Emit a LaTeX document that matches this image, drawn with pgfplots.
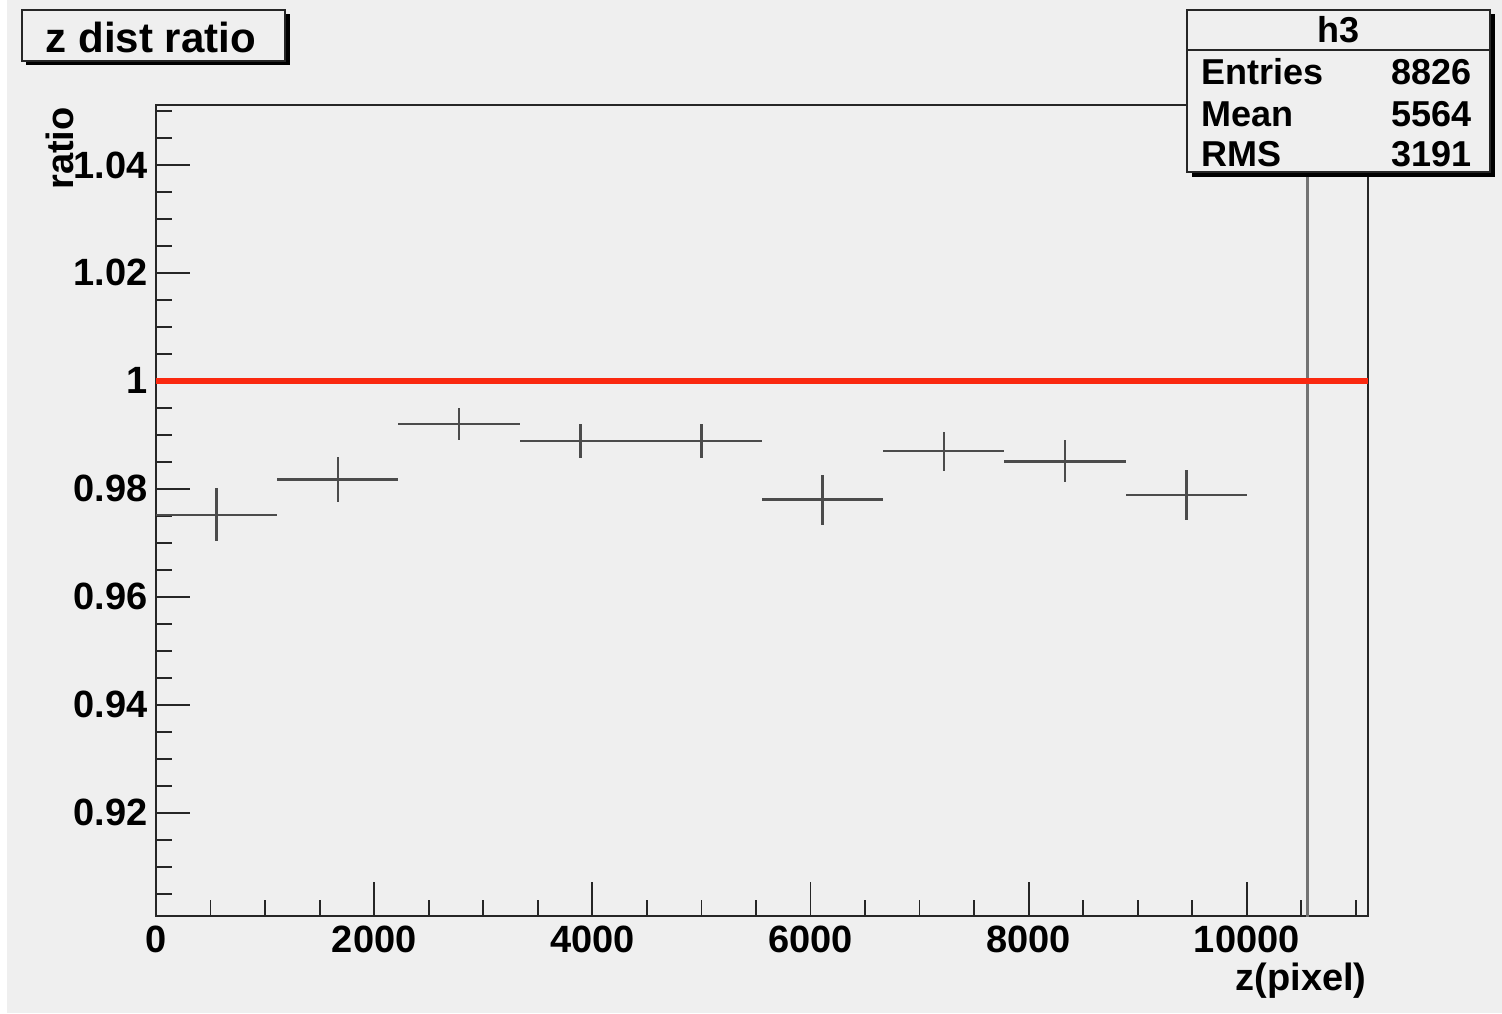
\documentclass[border=0pt]{standalone}
\usepackage{pgfplots}
\pgfplotsset{compat=1.18}
\usepackage{pgfplotstable}
\usepackage{fontspec}
\setmainfont{Liberation Sans}
\definecolor{bg}{RGB}{239,239,239}
\definecolor{rootred}{RGB}{250,40,15}
\definecolor{barcol}{RGB}{75,75,75}
\pgfplotstableread{
x ex y ey
555.6 555.6 0.9752 0.0049
1666.7 555.6 0.9817 0.0042
2777.8 555.6 0.9920 0.0029
3888.9 555.6 0.9889 0.0032
5000.0 555.6 0.9889 0.0032
6111.1 555.6 0.9780 0.0046
7222.2 555.6 0.9870 0.0036
8333.3 555.6 0.9851 0.0039
9444.4 555.6 0.9789 0.0046
}\ratiodata
\begin{document}
\begin{tikzpicture}[x=0.5pt,y=0.5pt]
\path[use as bounding box] (0,0) rectangle (1502,1013);
\fill[white] (0,0) rectangle (1502,1013);
\fill[bg] (7,0) rectangle (1502,1013);
\begin{axis}[
  at={(78pt,48.5pt)}, anchor=south west,
  scale only axis, width=606pt, height=405.5pt,
  xmin=0, xmax=11111.1, ymin=0.9009, ymax=1.0511,
  scaled x ticks=false, scaled y ticks=false,
  axis background/.style={fill=bg},
  axis line style={black!85, line width=1pt},
  tick align=inside, tick pos=left,
  major tick length=17pt, minor tick length=8pt,
  tick style={black!85, line width=0.9pt},
  xtick={0,2000,4000,6000,8000,10000},
  xticklabels={0,2000,4000,6000,8000,10000},
  minor xtick={500,1000,1500,2500,3000,3500,4500,5000,5500,6500,7000,7500,8500,9000,9500,10500,11000},
  ytick={0.92,0.94,0.96,0.98,1,1.02,1.04},
  yticklabels={0.92,0.94,0.96,0.98,1,1.02,1.04},
  minor ytick={0.905,0.91,0.915,0.925,0.93,0.935,0.945,0.95,0.955,0.965,0.97,0.975,0.985,0.99,0.995,1.005,1.01,1.015,1.025,1.03,1.035,1.045,1.05},
  ticklabel style={font=\fontsize{19pt}{19pt}\selectfont\bfseries, inner sep=0pt},
  yticklabel style={anchor=east, xshift=-4pt},
  xticklabel style={anchor=north, yshift=-5pt},
  /pgf/number format/assume math mode=true,
  clip=true,
]
\addplot[color=barcol, line width=1.3pt, only marks, mark=*, mark size=0.01pt,
  mark options={draw opacity=0, fill opacity=0},
  error bars/.cd, x dir=both, x explicit, y dir=both, y explicit, error mark=none,
  error bar style={line width=1.3pt, color=barcol, draw opacity=1}]
  table[x=x, y=y, x error=ex, y error=ey] {\ratiodata};
\addplot[color=black!55, line width=1.3pt] coordinates {(10555.6,0.85) (10555.6,1.10)};
\addplot[color=rootred, line width=2.6pt] coordinates {(0,1) (11111.1,1)};
\end{axis}
% axis titles
\node[anchor=base east, inner sep=0pt, font=\fontsize{19pt}{19pt}\selectfont\bfseries] at (1367,23) {z(pixel)};
\node[anchor=base east, rotate=90, inner sep=0pt, font=\fontsize{19pt}{19pt}\selectfont\bfseries] at (73,906) {ratio};
% title box
\fill[black] (26,1013-65) rectangle (290,1013-14);
\filldraw[fill=bg, draw=black!85, line width=1pt] (22,1013-61) rectangle (285,1013-10);
\node[anchor=base, inner sep=0pt, font=\fontsize{21pt}{21pt}\selectfont\bfseries] at (151,1013-53) {z dist ratio};
% stats box
\fill[black] (1192,1013-177) rectangle (1495,1013-14);
\filldraw[fill=bg, draw=black!85, line width=1pt] (1187,1013-172) rectangle (1490,1013-10);
\draw[black!85, line width=1pt] (1187,1013-50) -- (1490,1013-50);
\begin{scope}[every node/.style={inner sep=0pt, font=\fontsize{18pt}{18pt}\selectfont\bfseries}]
\node[anchor=base] at (1338,1013-43) {h3};
\node[anchor=base west] at (1201,1013-85) {Entries};
\node[anchor=base east] at (1472,1013-85) {8826};
\node[anchor=base west] at (1201,1013-127) {Mean};
\node[anchor=base east] at (1472,1013-127) {5564};
\node[anchor=base west] at (1201,1013-167) {RMS};
\node[anchor=base east] at (1472,1013-167) {3191};
\end{scope}
\end{tikzpicture}
\end{document}
